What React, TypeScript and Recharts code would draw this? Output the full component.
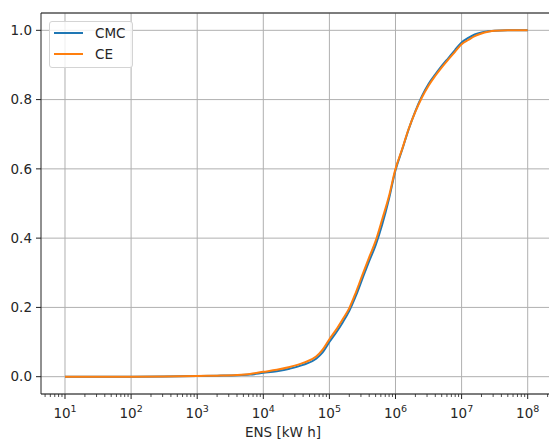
import { LineChart, Line, XAxis, YAxis, CartesianGrid, ReferenceLine } from 'recharts'

// ENS values [kW h] shared by both empirical CDFs
const ens = [
  10, 32, 100, 316, 1000, 2000, 4000, 6300, 10000, 16000, 25000, 40000, 63000,
  79000, 100000, 126000, 158000, 200000, 251000, 316000, 398000, 501000, 631000,
  794000, 1000000, 1260000, 1580000, 2000000, 2510000, 3160000, 3980000, 5010000,
  6310000, 7940000, 10000000, 12600000, 15800000, 20000000, 25100000, 31600000,
  50100000, 100000000,
]
const cmc = [
  0, 0, 0, 0.0005, 0.002, 0.003, 0.004, 0.006, 0.011, 0.016, 0.023, 0.034, 0.052,
  0.07, 0.1, 0.127, 0.156, 0.19, 0.233, 0.283, 0.333, 0.38, 0.44,
  0.512, 0.596, 0.655, 0.714, 0.767, 0.81, 0.845, 0.872, 0.897,
  0.92, 0.943, 0.965, 0.978, 0.988, 0.994, 0.997, 0.999,
  1, 1,
]
const ce = [
  0, 0, 0, 0.0005, 0.002, 0.003, 0.005, 0.008, 0.014, 0.02, 0.028, 0.04, 0.058,
  0.078, 0.108, 0.135, 0.165, 0.198, 0.243, 0.294, 0.344, 0.392, 0.455,
  0.52, 0.6, 0.657, 0.715, 0.765, 0.806, 0.84, 0.868, 0.893,
  0.916, 0.938, 0.96, 0.972, 0.983, 0.991, 0.996, 0.999,
  1, 1,
]
const decades = [10, 100, 1000, 10000, 100000, 1000000, 10000000, 100000000]
const yTicks = [0, 0.2, 0.4, 0.6, 0.8, 1.0]

const data = ens.map((x, i) => ({ x, cmc: cmc[i], ce: ce[i] }))

// major + minor log ticks (2..9 x 10^k)
const xTicks: number[] = []
for (let k = 0; k <= 8; k++) {
  for (let m = 1; m <= 9; m++) {
    const v = m * Math.pow(10, k)
    if (v >= 4.4 && v <= 2.0e8) xTicks.push(v)
  }
}

const FONT = '"DejaVu Sans", sans-serif'
const TXT = '#262626'
const AX = '#222'

function LogTick(props: any) {
  const { x, y, payload } = props
  const v = payload.value as number
  const e = Math.log10(v)
  const major = Math.abs(e - Math.round(e)) < 1e-6
  return (
    <g>
      <line x1={x} x2={x} y1={y} y2={y + (major ? 5 : 3)} stroke={AX} strokeWidth={major ? 1 : 0.8} />
      {major && (
        <text x={x} y={y + 24} textAnchor="middle" fontFamily={FONT} fontSize={13.5} fill={TXT}>
          10<tspan dy={-6} fontSize={9.5}>{Math.round(e)}</tspan>
        </text>
      )}
    </g>
  )
}

export default function App() {
  return (
    <div style={{ position: 'absolute', left: 0, top: 0, width: 549, height: 443, background: '#fff' }}>
      <LineChart width={549} height={443} data={data} margin={{ top: 13, right: 0, bottom: 0, left: 0 }}>
        <CartesianGrid vertical={false} stroke="#b0b0b0" strokeWidth={1} />
        {decades.map(d => (
          <ReferenceLine key={d} x={d} stroke="#b0b0b0" strokeWidth={1} />
        ))}
        <ReferenceLine y={1.05} stroke={AX} strokeWidth={1} />
        <XAxis
          dataKey="x"
          type="number"
          scale="log"
          domain={[4.335, 2.1e8]}
          allowDataOverflow
          ticks={xTicks}
          interval={0}
          height={49}
          tickLine={false}
          tickSize={0}
          tickMargin={0}
          stroke={AX}
          tick={<LogTick />}
          label={{ value: 'ENS [kW h]', position: 'insideBottom', offset: 6, dx: -12,
            fill: TXT, fontSize: 13.5, fontFamily: FONT }}
        />
        <YAxis
          type="number"
          domain={[-0.05, 1.05]}
          ticks={yTicks}
          width={41}
          stroke={AX}
          tickSize={5}
          tickMargin={4}
          tickFormatter={(v: number) => v.toFixed(1)}
          tick={{ fontFamily: FONT, fontSize: 13.5, fill: TXT }}
        />
        <Line type="monotone" dataKey="cmc" name="CMC" stroke="#1f77b4" strokeWidth={2}
          dot={false} isAnimationActive={false} />
        <Line type="monotone" dataKey="ce" name="CE" stroke="#ff7f0e" strokeWidth={2}
          dot={false} isAnimationActive={false} />
      </LineChart>
      <div style={{
        position: 'absolute', left: 49, top: 21, width: 82, height: 45,
        border: '1px solid #d4d4d4', borderRadius: 3, background: 'rgba(255,255,255,0.8)',
        fontFamily: FONT, fontSize: 13.5, color: TXT,
      }}>
        {[['CMC', '#1f77b4'], ['CE', '#ff7f0e']].map(([name, c], i) => (
          <div key={name} style={{ position: 'absolute', left: 0, top: 2 + i * 21, height: 18, display: 'flex', alignItems: 'center' }}>
            <div style={{ marginLeft: 4, width: 29, height: 2, background: c }} />
            <span style={{ marginLeft: 12, lineHeight: '18px' }}>{name}</span>
          </div>
        ))}
      </div>
    </div>
  )
}
